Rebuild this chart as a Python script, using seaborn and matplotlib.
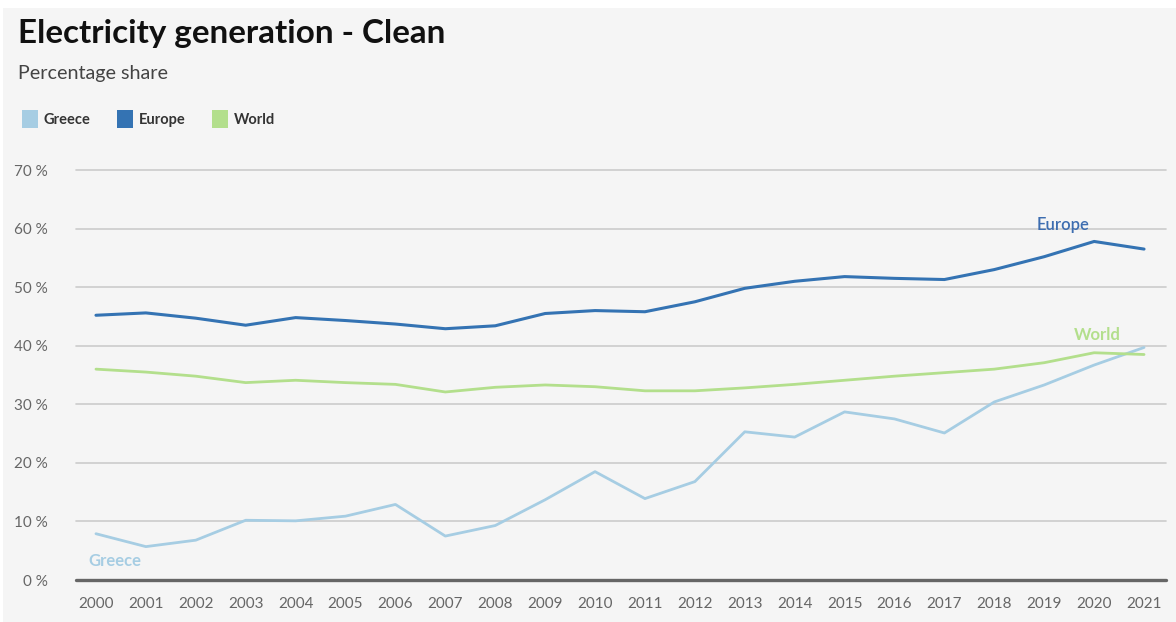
import numpy as np
import pandas as pd
import matplotlib
matplotlib.use("Agg")
import matplotlib.pyplot as plt
from matplotlib.patches import Rectangle, Patch
import seaborn as sns

years = list(range(2000, 2022))
greece = [7.9, 5.7, 6.8, 10.2, 10.1, 10.9, 12.9, 7.5, 9.3, 13.7, 18.5, 13.9,
          16.8, 25.3, 24.4, 28.7, 27.5, 25.1, 30.4, 33.3, 36.7, 39.7]
europe = [45.2, 45.6, 44.7, 43.5, 44.8, 44.3, 43.7, 42.9, 43.4, 45.5, 46.0, 45.8,
          47.5, 49.8, 51.0, 51.8, 51.5, 51.3, 53.0, 55.2, 57.8, 56.5]
world = [36.0, 35.5, 34.8, 33.7, 34.1, 33.7, 33.4, 32.1, 32.9, 33.3, 33.0, 32.3,
         32.3, 32.8, 33.4, 34.1, 34.8, 35.4, 36.0, 37.1, 38.8, 38.5]
series_names = ["Greece", "Europe", "World"]
y_ticks = [0, 10, 20, 30, 40, 50, 60, 70]

colors = {"Greece": "#a6cde3", "Europe": "#3473b3", "World": "#b3df8c"}
label_colors = {"Greece": "#a6cde3", "Europe": "#3d6db0", "World": "#b3df8c"}
widths = {"Greece": 2.0, "Europe": 2.2, "World": 2.0}

df = pd.DataFrame({
    "year": years * 3,
    "value": greece + europe + world,
    "series": ["Greece"] * len(years) + ["Europe"] * len(years) + ["World"] * len(years),
})

sns.set_theme(style="white")
plt.rcParams["font.family"] = ["Lato", "DejaVu Sans"]

fig = plt.figure(figsize=(11.76, 6.22), dpi=100)
fig.patch.set_facecolor("white")
bg = Rectangle((3 / 1176, 0), 1 - 3 / 1176, 1 - 8 / 622,
               transform=fig.transFigure, facecolor="#f5f5f5",
               edgecolor="none", zorder=-10)
fig.patches.append(bg)

ax = fig.add_axes([76 / 1176, 42 / 622, 1090 / 1176, 410 / 622])
ax.set_facecolor("none")
ax.set_zorder(2)

for name in series_names:
    sub = df[df["series"] == name]
    sns.lineplot(data=sub, x="year", y="value", ax=ax, color=colors[name],
                 linewidth=widths[name], legend=False, zorder=3)

ax.set_xlim(1999.6, 2021.44)
ax.set_ylim(0, 70)
ax.set_yticks(y_ticks)
ax.set_yticklabels([f"{v} %" for v in y_ticks])
ax.set_xticks(years)
ax.set_xticklabels([str(y) for y in years])
for v in y_ticks[1:]:
    ax.axhline(v, color="#cccccc", linewidth=1.2, zorder=1, clip_on=False)
ax.axhline(0, color="#666666", linewidth=2.4, zorder=4, clip_on=False)
for s in ax.spines.values():
    s.set_visible(False)
ax.tick_params(axis="both", length=0, labelsize=11, labelcolor="#666666")
ax.tick_params(axis="y", pad=20)
ax.tick_params(axis="x", pad=12)
ax.set_xlabel("")
ax.set_ylabel("")

# direct labels
ax.text(2019.38, 60.6, "Europe", color=label_colors["Europe"], fontsize=12,
        fontweight="semibold", ha="center", va="center")
ax.text(2020.06, 41.8, "World", color=label_colors["World"], fontsize=12,
        fontweight="bold", ha="center", va="center")
ax.text(2000.38, 3.2, "Greece", color=label_colors["Greece"], fontsize=12,
        fontweight="bold", ha="center", va="center")

# title/subtitle
fig.text(18 / 1176, 1 - 33 / 622, "Electricity generation - Clean", fontsize=23.9,
         fontweight="bold", color="#111111", ha="left", va="center")
fig.text(18 / 1176, 1 - 73 / 622, "Percentage share", fontsize=14.2,
         color="#444444", ha="left", va="center")

handles = [Patch(facecolor=colors[n], edgecolor="none", label=n) for n in series_names]
leg = fig.legend(handles=handles, loc="center left",
                 bbox_to_anchor=(9 / 1176, 1 - 119 / 622), ncol=3, frameon=False,
                 handlelength=1.1, handleheight=1.5, handletextpad=0.4,
                 columnspacing=1.8, prop={"weight": "bold", "size": 10.5})
for t in leg.get_texts():
    t.set_color("#333333")

fig.savefig("out.png", dpi=100, facecolor=fig.get_facecolor())
